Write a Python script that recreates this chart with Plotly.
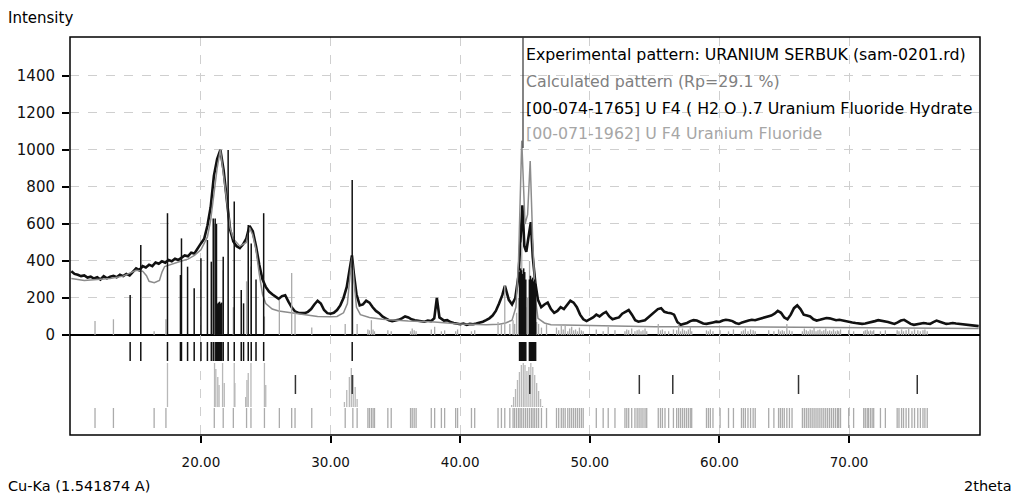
import plotly.graph_objects as go

# ---------------- data ----------------
exp_2theta = [10.0, 10.25, 10.5, 10.75, 11.0, 11.25, 11.5, 11.75, 12.0, 12.25, 12.5, 12.75, 13.0, 13.25, 13.5, 13.75,
              14.0, 14.25, 14.5, 14.75, 15.0, 15.25, 15.5, 15.75, 16.0, 16.25, 16.5, 16.75, 17.0, 17.25, 17.5, 17.75,
              18.0, 18.25, 18.5, 18.75, 19.0, 19.25, 19.5, 19.75, 20.0, 20.25, 20.5, 20.75, 21.0, 21.25, 21.5, 21.75,
              22.0, 22.25, 22.5, 22.75, 23.0, 23.25, 23.5, 23.75, 24.0, 24.25, 24.5, 24.75, 25.0, 25.25, 25.5, 25.75,
              26.0, 26.25, 26.5, 26.75, 27.0, 27.25, 27.5, 27.75, 28.0, 28.25, 28.5, 28.75, 29.0, 29.25, 29.5, 29.75,
              30.0, 30.25, 30.5, 30.75, 31.0, 31.25, 31.5, 31.65, 31.8, 32.0, 32.25, 32.5, 32.75, 33.0, 33.25, 33.5, 33.75,
              34.0, 34.25, 34.5, 34.75, 35.0, 35.25, 35.5, 35.75, 36.0, 36.25, 36.5, 36.75, 37.0, 37.25, 37.5, 37.75,
              38.0, 38.2, 38.4, 38.75, 39.0, 39.25, 39.5, 39.75, 40.0, 40.25, 40.5, 40.75, 41.0, 41.25, 41.5, 41.75,
              42.0, 42.25, 42.5, 42.75, 43.0, 43.25, 43.45, 43.75, 44.0, 44.25, 44.5, 44.7, 44.8, 44.95, 45.1, 45.25,
              45.45, 45.6, 45.8, 46.0, 46.25, 46.5, 46.75, 47.0, 47.25, 47.5, 47.75, 48.0, 48.25, 48.5, 48.75, 49.0,
              49.25, 49.5, 49.75, 50.0, 50.25, 50.5, 50.75, 51.0, 51.25, 51.5, 51.75, 52.0, 52.25, 52.5, 52.75, 53.0,
              53.25, 53.5, 53.75, 54.0, 54.25, 54.5, 54.75, 55.0, 55.25, 55.5, 55.75, 56.0, 56.25, 56.5, 56.75, 57.0,
              57.25, 57.5, 57.75, 58.0, 58.25, 58.5, 58.75, 59.0, 59.25, 59.5, 59.75, 60.0, 60.25, 60.5, 60.75, 61.0,
              61.25, 61.5, 61.75, 62.0, 62.25, 62.5, 62.75, 63.0, 63.25, 63.5, 63.75, 64.0, 64.25, 64.5, 64.75, 65.0,
              65.25, 65.5, 65.75, 66.0, 66.25, 66.5, 66.75, 67.0, 67.25, 67.5, 67.75, 68.0, 68.25, 68.5, 68.75, 69.0,
              69.25, 69.5, 69.75, 70.0, 70.25, 70.5, 70.75, 71.0, 71.25, 71.5, 71.75, 72.0, 72.25, 72.5, 72.75, 73.0,
              73.25, 73.5, 73.75, 74.0, 74.25, 74.5, 74.75, 75.0, 75.25, 75.5, 75.75, 76.0, 76.25, 76.5, 76.75, 77.0,
              77.25, 77.5, 77.75, 78.0, 78.25, 78.5, 78.75, 79.0, 79.25, 79.5, 79.75, 80.0]
exp_counts = [345, 330, 325, 318, 322, 310, 315, 305, 312, 300, 318, 306, 315, 320, 312, 325,
              318, 330, 322, 340, 360, 350, 372, 365, 380, 372, 392, 385, 398, 390, 405, 398,
              412, 405, 420, 430, 425, 445, 440, 470, 495, 520, 590, 690, 860, 950, 1000, 890,
              720, 570, 505, 480, 470, 490, 520, 590, 560, 480, 380, 300, 260, 235, 220, 205,
              195, 210, 215, 180, 150, 128, 120, 118, 118, 125, 140, 165, 185, 170, 135, 118,
              115, 120, 135, 160, 200, 260, 380, 430, 330, 220, 160, 165, 185, 175, 150, 130, 118,
              100, 90, 80, 75, 78, 82, 90, 100, 95, 85, 80, 78, 75, 72, 78, 75,
              90, 200, 95, 78, 80, 70, 65, 60, 58, 62, 55, 60, 58, 62, 65, 72,
              80, 90, 105, 130, 170, 215, 265, 190, 165, 200, 320, 620, 700, 480, 450, 520,
              610, 420, 280, 190, 150, 165, 175, 140, 120, 130, 150, 140, 165, 185, 175, 150,
              110, 85, 75, 85, 95, 110, 100, 115, 125, 100, 85, 90, 95, 115, 125, 135,
              110, 80, 72, 75, 80, 95, 110, 125, 140, 145, 125, 120, 118, 110, 70, 55,
              60, 65, 75, 80, 78, 70, 62, 60, 62, 68, 72, 70, 78, 82, 80, 75,
              65, 60, 68, 75, 78, 82, 80, 85, 90, 92, 100, 105, 115, 130, 120, 95,
              85, 110, 145, 160, 140, 110, 105, 100, 85, 78, 82, 88, 92, 90, 85, 80,
              82, 78, 72, 70, 68, 65, 62, 60, 62, 65, 70, 75, 80, 78, 72, 70,
              65, 60, 68, 78, 82, 72, 60, 55, 58, 62, 65, 62, 60, 70, 78, 72,
              65, 60, 62, 65, 62, 60, 58, 55, 52, 50, 48, 48]

calc_2theta = [10.0, 10.5, 11.0, 12.0, 13.0, 14.0, 14.5, 15.0, 15.5, 15.8, 16.0, 16.4, 16.8, 17.0, 17.2, 17.6,
               18.0, 18.5, 19.0, 19.5, 20.0, 20.5, 20.75, 21.0, 21.25, 21.5, 21.75, 22.0, 22.25, 22.5, 23.0, 23.5,
               23.75, 24.0, 24.25, 24.5, 24.75, 25.0, 25.5, 26.0, 27.0, 28.0, 29.0, 30.0, 30.5, 31.0, 31.3, 31.5,
               31.65, 31.8, 32.0, 32.3, 33.0, 34.0, 35.0, 36.0, 38.0, 40.0, 42.0, 43.0, 43.5, 44.0, 44.3, 44.5,
               44.75, 45.0, 45.2, 45.4, 45.6, 45.8, 46.0, 46.5, 47.0, 50.0, 55.0, 60.0, 65.0, 70.0, 75.0, 80.0]
calc_counts = [305, 300, 295, 300, 305, 318, 335, 350, 345, 320, 290, 282, 295, 340, 370, 380,
               390, 400, 410, 430, 460, 530, 620, 760, 900, 1000, 870, 720, 580, 520, 480, 500,
               580, 540, 460, 330, 220, 170, 140, 130, 120, 110, 100, 98, 100, 120, 170, 320,
               420, 300, 150, 110, 95, 85, 80, 75, 70, 60, 55, 58, 65, 80, 150, 400,
               1050, 600, 650, 940, 500, 200, 90, 65, 55, 50, 45, 45, 42, 40, 38, 35]

# [00-074-1765] U F4 (H2O).7 reference lines
ph1_pos = [14.54, 15.36, 17.42, 18.42, 18.5, 18.97, 19.48, 20.0, 20.5, 20.8, 20.95, 21.1, 21.2, 21.28, 21.36,
           21.44, 21.52, 21.6, 21.72, 22.1, 22.57, 23.11, 23.29, 23.65, 23.88, 24.25, 24.84, 31.67,
           44.58, 44.66, 44.74, 44.82, 44.9, 44.98, 45.06, 45.34, 45.42, 45.5, 45.58, 45.66, 45.74, 45.82]
ph1_int = [216, 486, 658, 324, 522, 369, 252, 414, 513, 396, 630, 630, 600, 170, 175,
           180, 170, 175, 423, 1000, 721, 243, 171, 594, 495, 300, 658, 838,
           340, 360, 350, 330, 360, 340, 300, 300, 320, 300, 310, 290, 300, 280]

# [00-071-1962] U F4 reference lines
ph2_pos = [11.83, 13.25, 16.39, 17.3, 21.03, 21.72, 22.5, 23.52, 23.86, 24.9, 26.05, 27.0, 27.26, 28.55,
           31.13, 31.72, 32.05, 32.88, 33.0, 33.15, 33.28, 33.39, 34.42, 34.68, 36.17, 36.3, 36.45, 36.6,
           37.77, 38.03, 38.55, 38.8, 39.65, 39.8, 40.87, 41.12, 42.92, 43.18, 43.44, 43.83,
           44.08, 44.2, 44.35, 44.5, 44.62, 44.75, 44.9, 45.05, 45.2, 45.35, 45.5, 45.62, 45.75, 45.9, 46.05, 46.27,
           46.66,
           47.43, 47.6, 47.8, 47.95, 48.1, 48.3, 48.45, 48.6, 48.75, 48.9, 49.05, 49.2, 49.35, 49.49,
           50.5, 51.03, 51.42, 51.94,
           52.71, 52.85, 53.0, 53.23,
           53.48, 53.65, 53.8, 53.95, 54.1, 54.26, 54.39,
           55.28, 55.45, 55.6, 55.8,
           56.08, 56.45, 56.7, 56.85, 57.0, 57.15, 57.3, 57.45, 57.6, 57.75, 57.86,
           59.0, 59.15, 59.3, 59.5,
           60.05, 60.7, 61.08,
           61.7, 61.85, 62.0, 62.2, 62.4, 62.6, 62.76,
           63.8, 64.2,
           64.56, 64.7, 64.85, 65.0, 65.2, 65.4, 65.6,
           66.4, 66.55, 66.7, 66.85, 67.0, 67.15, 67.3, 67.45, 67.6, 67.75, 67.9, 68.05, 68.2, 68.35, 68.5,
           68.65, 68.8, 68.95, 69.1, 69.2, 69.34,
           69.97, 70.35,
           71.13, 71.25, 71.4, 71.5, 71.65, 71.78, 71.9,
           72.42, 72.8,
           73.71, 73.85, 74.05, 74.2, 74.4, 74.6, 74.85, 75.05, 75.3, 75.5, 75.7, 75.85, 76.03]
ph2_int = [75, 85, 20, 85, 600, 350, 150, 290, 370, 100, 190, 335, 120, 40,
           60, 350, 60, 30, 25, 80, 30, 20, 25, 20, 20, 35, 25, 20,
           30, 45, 20, 25, 20, 30, 20, 25, 70, 60, 270, 60,
           80, 60, 120, 200, 350, 500, 300, 150, 200, 400, 300, 180, 100, 70, 60, 40,
           60,
           40, 25, 60, 30, 50, 20, 35, 45, 25, 30, 20, 40, 25, 20,
           30, 20, 45, 25,
           20, 30, 25, 35,
           20, 25, 30, 20, 25, 35, 20,
           60, 25, 30, 20,
           20, 30, 25, 60, 20, 35, 25, 20, 30, 45, 20,
           25, 20, 30, 20,
           25, 20, 30,
           20, 25, 35, 20, 30, 25, 20,
           25, 20,
           30, 20, 25, 20, 60, 25, 20,
           20, 35, 25, 20, 30, 25, 40, 20, 25, 30, 20, 25, 35, 20, 25,
           20, 30, 20, 25, 20, 30,
           25, 20,
           20, 25, 30, 20, 25, 20, 25,
           20, 25,
           25, 20, 30, 20, 25, 35, 20, 30, 25, 20, 25, 30, 20]

# peak list marks (middle strip)
peak_pos = [27.29, 31.67, 45.37, 53.82, 56.4, 66.1, 75.26]
# fitted profile markers (middle strip, grey)
mid_pos = [17.42, 21.05, 21.15, 21.3, 21.4, 21.67, 21.8, 22.57, 22.62, 23.45, 23.55, 23.65, 23.86, 24.9, 25.0,
           31.07, 31.25, 31.45, 31.6, 31.75, 31.9, 32.05, 32.15,
           43.97, 44.12, 44.27, 44.42, 44.57, 44.72, 44.87, 45.0, 45.15, 45.3, 45.45, 45.6, 45.75, 45.9, 46.05,
           46.2, 46.35]
mid_top = [72, 72, 66, 58, 50, 72, 52, 72, 52, 38, 55, 62, 72, 72, 50,
           33, 45, 58, 67, 60, 48, 36, 28,
           30, 38, 46, 55, 63, 70, 72, 70, 64, 68, 72, 68, 60, 52, 44,
           36, 29]

x_ticks = [20, 30, 40, 50, 60, 70]
y_ticks = [0, 200, 400, 600, 800, 1000, 1200, 1400]

assert len(exp_2theta) == len(exp_counts)
assert len(calc_2theta) == len(calc_counts)
assert len(ph1_pos) == len(ph1_int)
assert len(ph2_pos) == len(ph2_int), (len(ph2_pos), len(ph2_int))
assert len(mid_pos) == len(mid_top)

FONT = "DejaVu Sans"
BLACK = "#111111"
CALC = "#8c8c8c"
PH2 = "#ababab"

# page body has an 8px margin: the figure is sized so the plot frame lands
# at x 70..980, y 37..435 of the window
OFF = 8
FIG_W, FIG_H = 1019 - OFF, 501 - OFF
PL, PT, PW, PH = 70 - OFF, 37 - OFF, 910, 398


def sticks(pos, lo, hi):
    xs, ys = [], []
    for i, p in enumerate(pos):
        xs += [p, p, None]
        top = hi[i] if isinstance(hi, list) else hi
        ys += [lo, top, None]
    return xs, ys


def px(xw):
    return (xw - 70) / PW


def py(yw):
    return (435 - yw) / PH


fig = go.Figure()

# main panel
fig.add_trace(go.Scatter(x=exp_2theta, y=exp_counts, mode="lines",
                         line=dict(color=BLACK, width=2.6), yaxis="y", xaxis="x"))
fig.add_trace(go.Scatter(x=calc_2theta, y=calc_counts, mode="lines",
                         line=dict(color=CALC, width=1.5), yaxis="y", xaxis="x"))
sx, sy = sticks(ph2_pos, 0, ph2_int)
fig.add_trace(go.Scatter(x=sx, y=sy, mode="lines", line=dict(color=PH2, width=1.3), yaxis="y", xaxis="x"))
sx, sy = sticks(ph1_pos, 0, ph1_int)
fig.add_trace(go.Scatter(x=sx, y=sy, mode="lines", line=dict(color=BLACK, width=1.5), yaxis="y", xaxis="x"))

# lower strip: row 1 phase 1, row 2 peaks/profile, row 3 phase 2
sx, sy = sticks(ph1_pos, 74, 93)
fig.add_trace(go.Scatter(x=sx, y=sy, mode="lines", line=dict(color=BLACK, width=1.5), yaxis="y2", xaxis="x"))
sx, sy = sticks(mid_pos, 28, mid_top)
fig.add_trace(go.Scatter(x=sx, y=sy, mode="lines", line=dict(color="#b8b8b8", width=1.3), yaxis="y2", xaxis="x"))
sx, sy = sticks(peak_pos, 41, 60)
fig.add_trace(go.Scatter(x=sx, y=sy, mode="lines", line=dict(color="#333333", width=1.5), yaxis="y2", xaxis="x"))
sx, sy = sticks(ph2_pos, 7, 27)
fig.add_trace(go.Scatter(x=sx, y=sy, mode="lines", line=dict(color=PH2, width=1.3), yaxis="y2", xaxis="x"))

split = 100 / PH

fig.update_layout(
    width=FIG_W, height=FIG_H,
    margin=dict(l=PL, r=FIG_W - PL - PW, t=PT, b=FIG_H - PT - PH, autoexpand=False),
    paper_bgcolor="white", plot_bgcolor="white",
    showlegend=False,
    font=dict(family=FONT, size=14, color="black"),
    xaxis=dict(range=[9.9, 80.1], anchor="y2", tickvals=x_ticks, tickformat=".2f",
               ticks="outside", ticklen=7, tickwidth=1.5, tickcolor="black", ticklabelstandoff=8,
               showgrid=True, gridcolor="#cfcfcf", griddash="dash", gridwidth=1,
               zeroline=False, showline=False, tickfont=dict(family=FONT, size=13.5, color="#111111")),
    yaxis=dict(domain=[split, 1], range=[0, 1610], tickvals=y_ticks,
               ticks="outside", ticklen=7, tickwidth=1.5, tickcolor="black", ticklabelstandoff=4,
               showgrid=True, gridcolor="#cfcfcf", griddash="dash", gridwidth=1,
               zeroline=True, zerolinecolor="black", zerolinewidth=1.5,
               showline=False, tickfont=dict(family=FONT, size=15, color="#111111")),
    yaxis2=dict(domain=[0, split], range=[0, 100], showticklabels=False, ticks="",
                showgrid=False, zeroline=False, showline=False),
    shapes=[
        dict(type="rect", xref="paper", yref="paper", x0=0, x1=1, y0=0, y1=1,
             line=dict(color="black", width=1.5), layer="above"),
        dict(type="line", xref="paper", yref="paper", x0=px(523), x1=px(523), y0=py(148), y1=1,
             line=dict(color="#333333", width=1.2), layer="above"),
    ],
)

legend_items = [
    ("Experimental pattern: URANIUM SERBUK (sam-0201.rd)", "black", 54),
    ("Calculated pattern (Rp=29.1 %)", "#808080", 81),
    ("[00-074-1765] U F4 ( H2 O ).7 Uranium Fluoride Hydrate", "black", 108),
    ("[00-071-1962] U F4 Uranium Fluoride", "#a6a6a6", 133),
]
for txt, col, ypx in legend_items:
    fig.add_annotation(xref="paper", yref="paper", x=px(524), y=py(ypx),
                       text=txt, showarrow=False, xanchor="left", yanchor="middle",
                       font=dict(family=FONT, size=15.8, color=col))

fig.add_annotation(xref="paper", yref="paper", x=px(6), y=py(18), text="Intensity",
                   showarrow=False, xanchor="left", yanchor="middle", font=dict(family=FONT, size=15))
fig.add_annotation(xref="paper", yref="paper", x=px(6), y=py(486), text="Cu-Ka (1.541874 A)",
                   showarrow=False, xanchor="left", yanchor="middle", font=dict(family=FONT, size=14.5))
fig.add_annotation(xref="paper", yref="paper", x=px(1014), y=py(486), text="2theta",
                   showarrow=False, xanchor="right", yanchor="middle", font=dict(family=FONT, size=14.5))

fig.write_html("out.html")
